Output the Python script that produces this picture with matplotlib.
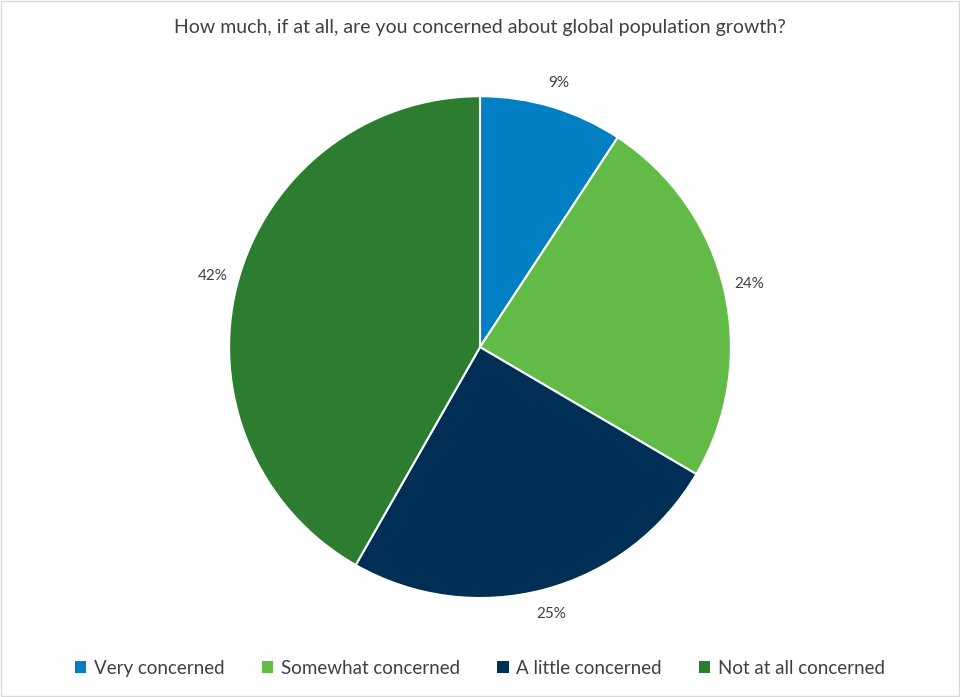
import matplotlib
matplotlib.use("Agg")
import matplotlib.pyplot as plt
from matplotlib.patches import Rectangle

categories = ["Very concerned", "Somewhat concerned", "A little concerned", "Not at all concerned"]
values = [9.25, 24.2, 24.8, 41.75]
colors = ["#0080C3", "#63BB47", "#002F56", "#2D7D31"]
title = "How much, if at all, are you concerned about global population growth?"

plt.rcParams['font.family'] = ['Lato', 'DejaVu Sans']
text_color = "#404040"

fig = plt.figure(figsize=(9.6, 6.97), dpi=100)
fig.patches.append(Rectangle((0.001, 0.001), 0.998, 0.998, transform=fig.transFigure,
                             fill=False, edgecolor="#D9D9D9", linewidth=1))

ax = fig.add_axes([0.2385, 0.142, 0.523, 0.720])
wedges, texts, autotexts = ax.pie(
    values, colors=colors, startangle=90, counterclock=False,
    autopct=lambda p: f"{p:.0f}%", pctdistance=1.10,
    wedgeprops=dict(edgecolor="white", linewidth=1.5),
    textprops=dict(color=text_color, fontsize=11))
ax.set_xlim(-1, 1)
ax.set_ylim(-1, 1)
ax.set_aspect('equal')

fig.text(0.5, 0.961, title, ha='center', va='center', fontsize=14, color=text_color)

leg = fig.legend(wedges, categories, loc='center', bbox_to_anchor=(0.5, 0.041),
                 ncol=4, frameon=False, fontsize=13.5, handlelength=0.6, handleheight=0.6,
                 handletextpad=0.4, columnspacing=2.0, labelcolor=text_color)
for h in leg.legend_handles:
    h.set_edgecolor("none")

fig.savefig("out.png", dpi=100, facecolor="white")
